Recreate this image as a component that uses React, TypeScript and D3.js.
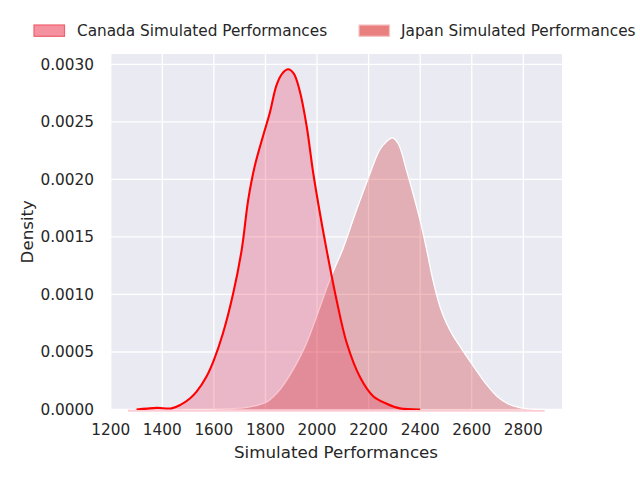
// @ts-nocheck
import { useRef, useEffect } from "react";
import * as d3 from "d3";

// Canada KDE
const canadaX = [1300, 1340, 1380, 1436, 1470, 1507, 1533, 1572, 1600, 1635, 1675, 1708, 1733, 1759, 1791, 1817, 1843, 1865, 1888, 1910, 1934, 1960, 1985, 2011, 2037, 2076, 2115, 2166, 2218, 2270, 2321, 2400];
const canadaDensity = [0, 0.000008, 0.000014, 0.00001, 0.00004, 0.000096, 0.000155, 0.00029, 0.00043, 0.00066, 0.00101, 0.00139, 0.00182, 0.00212, 0.00238, 0.00258, 0.00282, 0.00292, 0.002957, 0.00292, 0.00276, 0.00246, 0.00206, 0.00171, 0.00139, 0.00095, 0.00058, 0.000285, 0.000115, 0.00005, 0.00001, 0];

// Japan KDE
const japanX = [1480, 1600, 1700, 1740, 1805, 1843, 1872, 1947, 1998, 2050, 2101, 2140, 2192, 2244, 2270, 2292, 2315, 2347, 2399, 2424, 2450, 2476, 2502, 2528, 2560, 2593, 2630, 2660, 2700, 2740, 2786, 2840, 2883];
const japanDensity = [0, 0.000004, 0.000012, 0.000023, 0.000066, 0.000139, 0.00022, 0.000516, 0.000806, 0.00113, 0.0014, 0.00165, 0.00197, 0.00226, 0.00233, 0.002362, 0.00231, 0.00208, 0.00165, 0.0014, 0.00112, 0.0009, 0.00075, 0.00064, 0.00053, 0.00042, 0.0003, 0.00021, 0.00011, 0.00005, 0.000017, 0.000003, 0];

const xTicks = [1200, 1400, 1600, 1800, 2000, 2200, 2400, 2600, 2800];
const yTicks = [0, 0.0005, 0.001, 0.0015, 0.002, 0.0025, 0.003];

const seriesNames = ["Canada Simulated Performances", "Japan Simulated Performances"];

const App = () => {
  const svgRef = useRef();

  useEffect(() => {
    const svg = d3.select(svgRef.current);
    svg.selectAll("*").remove();

    const font = "DejaVu Sans, sans-serif";
    const textColor = "#262626";
    const left = 110, right = 562, top = 54, bottom = 409.5;

    const x = d3.scaleLinear().domain([1197.2, 2950]).range([left, right]);
    const y = d3.scaleLinear().domain([0, 0.00309]).range([bottom, top]);

    // background
    svg.append("rect")
      .attr("x", left).attr("y", top)
      .attr("width", right - left).attr("height", bottom - top)
      .attr("fill", "#eaeaf2");

    // grid
    const grid = svg.append("g").attr("stroke", "#ffffff").attr("stroke-width", 1.3);
    xTicks.forEach((t) => {
      grid.append("line").attr("x1", x(t)).attr("x2", x(t)).attr("y1", top).attr("y2", bottom);
    });
    yTicks.forEach((t) => {
      grid.append("line").attr("x1", left).attr("x2", right).attr("y1", y(t)).attr("y2", y(t));
    });

    const canada = canadaX.map((v, i) => [v, canadaDensity[i]]);
    const japan = japanX.map((v, i) => [v, japanDensity[i]]);

    const curve = d3.curveCatmullRom.alpha(0.5);
    const area = d3.area()
      .x((d) => x(d[0]))
      .y0(y(0))
      .y1((d) => Math.min(y(d[1]), bottom))
      .curve(curve);
    const line = d3.line()
      .x((d) => x(d[0]))
      .y((d) => y(d[1]))
      .curve(curve);

    // faint baseline edges of the filled polygons
    svg.append("line")
      .attr("x1", x(1267)).attr("x2", x(japanX[japanX.length - 1]))
      .attr("y1", bottom + 1.2).attr("y2", bottom + 1.2)
      .attr("stroke", "rgba(250,170,185,0.6)").attr("stroke-width", 2);

    const clip = svg.append("clipPath").attr("id", "plot-clip");
    clip.append("rect")
      .attr("x", left).attr("y", top)
      .attr("width", right - left).attr("height", bottom - top + 0.5);
    const plot = svg.append("g").attr("clip-path", "url(#plot-clip)");

    // Japan first, Canada on top
    plot.append("path").datum(japan).attr("d", area)
      .attr("fill", "rgb(200,0,0)").attr("fill-opacity", 0.25);
    plot.append("path").datum(japan).attr("d", line)
      .attr("fill", "none").attr("stroke", "#ffffff").attr("stroke-width", 1.3);

    plot.append("path").datum(canada).attr("d", area)
      .attr("fill", "rgb(232,30,70)").attr("fill-opacity", 0.25);
    plot.append("path").datum(canada).attr("d", line)
      .attr("fill", "none").attr("stroke", "#ff0000").attr("stroke-width", 2.1);

    // x tick labels
    svg.append("g")
      .selectAll("text")
      .data(xTicks)
      .enter()
      .append("text")
      .attr("x", (d) => x(d))
      .attr("y", 435)
      .attr("text-anchor", "middle")
      .attr("font-family", font)
      .attr("font-size", 15.3)
      .attr("fill", textColor)
      .text((d) => d);

    // y tick labels
    svg.append("g")
      .selectAll("text")
      .data(yTicks)
      .enter()
      .append("text")
      .attr("x", 94)
      .attr("y", (d) => y(d))
      .attr("dy", "0.36em")
      .attr("text-anchor", "end")
      .attr("font-family", font)
      .attr("font-size", 15.3)
      .attr("fill", textColor)
      .text((d) => d.toFixed(4));

    // axis labels
    svg.append("text")
      .attr("x", (left + right) / 2)
      .attr("y", 458)
      .attr("text-anchor", "middle")
      .attr("font-family", font)
      .attr("font-size", 16.7)
      .attr("fill", textColor)
      .text("Simulated Performances");

    svg.append("text")
      .attr("transform", `translate(32.5,${(top + bottom) / 2}) rotate(-90)`)
      .attr("text-anchor", "middle")
      .attr("font-family", font)
      .attr("font-size", 16.7)
      .attr("fill", textColor)
      .text("Density");

    // legend
    const legendItems = [
      { name: seriesNames[0], px: 34, tx: 77, fill: "#f4929f", stroke: "#f0606e" },
      { name: seriesNames[1], px: 359, tx: 401, fill: "#e88080", stroke: "#f6c4c4" },
    ];
    const legend = svg.append("g");
    legendItems.forEach((it) => {
      legend.append("rect")
        .attr("x", it.px).attr("y", 25)
        .attr("width", 30.5).attr("height", 11.3)
        .attr("fill", it.fill)
        .attr("stroke", it.stroke)
        .attr("stroke-width", 1.2);
      legend.append("text")
        .attr("x", it.tx).attr("y", 36.2)
        .attr("font-family", font)
        .attr("font-size", 15.3)
        .attr("fill", textColor)
        .text(it.name);
    });
  }, []);

  return (
    <svg
      ref={svgRef}
      width={640}
      height={480}
      style={{ position: "absolute", left: 0, top: 0, background: "#ffffff" }}
    ></svg>
  );
};

export default App;
